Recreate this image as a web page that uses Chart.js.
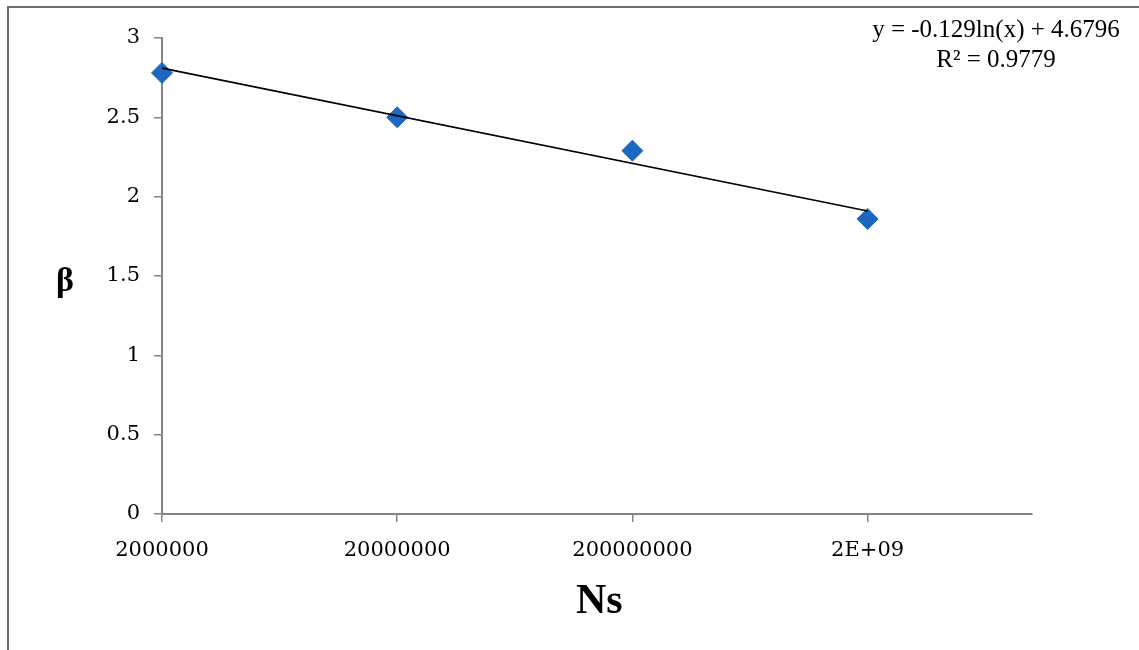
<!DOCTYPE html>
<html>
<head>
<meta charset="utf-8">
<script src="https://cdn.jsdelivr.net/npm/chart.js@4/dist/chart.umd.min.js"></script>
<style>
  body { margin: 0; background: #fff; }
  #wrap { position: relative; width: 1139px; height: 650px; overflow: hidden; }
  #frame { position: absolute; left: 7px; top: 6px; width: 1200px; height: 700px;
           border-left: 2px solid #6e6e6e; border-top: 2px solid #6e6e6e; }
  canvas { position: absolute; left: 0; top: 0; }
  .txt { position: absolute; color: #000; font-family: "Liberation Serif", "DejaVu Serif", serif; }
  #eq { left: 846px; top: 14px; width: 300px; text-align: center; font-size: 25px; line-height: 30px; }
  #yTitle { left: 56px; top: 261px; font-size: 34px; font-weight: bold; }
  #xTitle { left: 576px; top: 575px; font-size: 42px; font-weight: bold; }
</style>
</head>
<body>
<div id="wrap">
  <div id="frame"></div>
  <canvas id="chart" width="1139" height="650"></canvas>
  <div class="txt" id="eq">y = -0.129ln(x) + 4.6796<br>R² = 0.9779</div>
  <div class="txt" id="yTitle">β</div>
  <div class="txt" id="xTitle">Ns</div>
</div>
<script>
// values
const ns = [2000000, 20000000, 200000000, 2000000000];
const beta = [2.78, 2.50, 2.29, 1.86];

// log trendline end points (from the fitted line in the picture)
const trendNs = [2000000, 2000000000];
const trendBeta = [2.81, 1.91];

const xTickValues = [2000000, 20000000, 200000000, 2000000000];
const xTickLabels = ["2000000", "20000000", "200000000", "2E+09"];
const yTickLabels = ["0", "0.5", "1", "1.5", "2", "2.5", "3"];

const axisGray = "#858585";
const tickFont = { family: "DejaVu Serif", size: 21 };

const points = ns.map((x, i) => ({ x: x, y: beta[i] }));
const trend = trendNs.map((x, i) => ({ x: x, y: trendBeta[i] }));

new Chart(document.getElementById("chart").getContext("2d"), {
  type: "scatter",
  data: {
    datasets: [
      {
        type: "line",
        label: "trend",
        data: trend,
        borderColor: "#000",
        borderWidth: 1.6,
        pointRadius: 0,
        fill: false,
        clip: false,
        order: 0,
      },
      {
        label: "beta",
        data: points,
        pointStyle: "rectRot",
        pointRadius: 10.5,
        backgroundColor: "#1c67c1",
        borderColor: "#1c67c1",
        borderWidth: 1,
        clip: false,
        order: 1,
      },
    ],
  },
  options: {
    responsive: false,
    animation: false,
    layout: { padding: { left: 0, top: 38, right: 107, bottom: 0 } },
    plugins: { legend: { display: false }, tooltip: { enabled: false } },
    scales: {
      x: {
        type: "logarithmic",
        min: 2000000,
        max: 10000000000,
        afterBuildTicks: (scale) => {
          scale.ticks = xTickValues.map((v) => ({ value: v }));
        },
        afterFit: (scale) => { scale.height = 136; },
        grid: { drawOnChartArea: false, tickLength: 8, color: axisGray, lineWidth: 1.5 },
        border: { display: true, color: axisGray, width: 2 },
        ticks: {
          autoSkip: false,
          maxRotation: 0,
          padding: 16,
          color: "#000",
          font: tickFont,
          callback: (v, i) => xTickLabels[i],
        },
      },
      y: {
        min: 0,
        max: 3,
        afterFit: (scale) => { scale.width = 162; },
        grid: { drawOnChartArea: false, tickLength: 8, color: axisGray, lineWidth: 1.5 },
        border: { display: true, color: axisGray, width: 2 },
        ticks: {
          stepSize: 0.5,
          padding: 14,
          color: "#000",
          font: tickFont,
          callback: (v, i) => yTickLabels[i],
        },
      },
    },
  },
});
</script>
</body>
</html>
